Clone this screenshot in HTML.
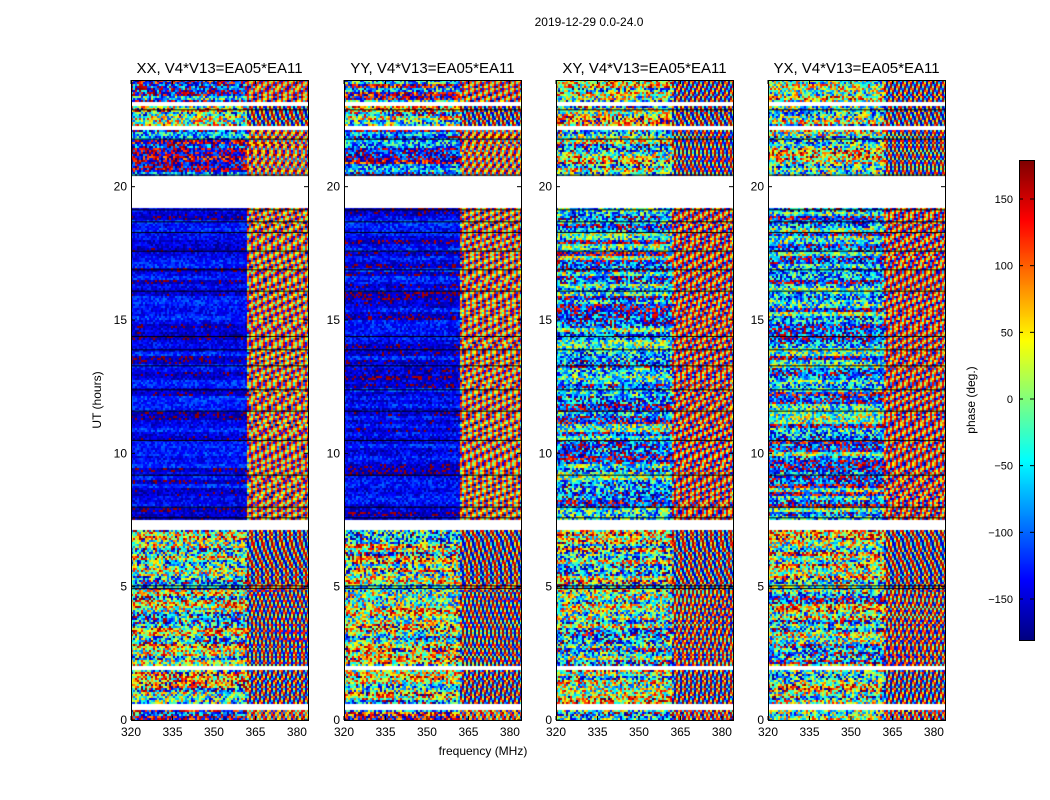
<!DOCTYPE html>
<html><head><meta charset="utf-8">
<style>
body{margin:0;background:#fff;width:1050px;height:800px;overflow:hidden;font-family:"Liberation Sans","DejaVu Sans",sans-serif;}
#root{position:relative;width:1050px;height:800px;}
canvas{position:absolute;}
</style></head>
<body>
<div id="root">
<svg id="ov" width="1050" height="800" style="position:absolute;left:0;top:0;z-index:2"></svg>
</div>
<script>
// ---- data ----
const panels = ["XX","YY","XY","YX"];
const freqTicks = [320,335,350,365,380];
const timeTicks = [0,5,10,15,20];
const cbarTicks = [150,100,50,0,-50,-100,-150];
const bandStart = [0,0.4,0.6,1.85,2.05,4.9,5.1,7.1,7.5,19.2,20.4,22.1,22.3,23.0,23.2];
const bandEnd   = [0.4,0.6,1.85,2.05,4.9,5.1,7.1,7.5,19.2,20.4,22.1,22.3,23.0,23.2,24];
const bandGap   = [0,1,0,1,0,0,0,1,0,1,0,1,0,1,0];
const meanXX   = [-150,0,0,0,0,-100,0,0,-140,0,-140,0,0,0,-120];
const spreadXX = [300,0,360,0,360,300,360,0,80,0,250,0,360,0,300];
const meanYY   = [-150,0,0,0,0,-100,0,0,-145,0,-140,0,0,0,-120];
const spreadYY = [300,0,360,0,360,300,360,0,90,0,250,0,360,0,300];
const meanXY   = [-60,0,0,0,-30,0,0,0,-90,0,0,0,0,0,0];
const spreadXY = [360,0,360,0,360,360,360,0,300,0,360,0,360,0,360];
const meanYX   = [-60,0,0,0,-30,0,0,0,-90,0,0,0,0,0,0];
const spreadYX = [360,0,360,0,360,360,360,0,300,0,360,0,360,0,360];
const blackLines = [4.95,5.05,7.6,8.0,9.2,10.5,11.6,12.4,13.3,13.9,14.4,16.1,16.9,17.6,18.3,18.7,19.15,20.45,21.8,22.9];
const means = [meanXX,meanYY,meanXY,meanYX];
const spreads = [spreadXX,spreadYY,spreadXY,spreadYX];

// ---- layout ----
const panelX = [131,344,556,768], PW=177, PT=80, PB=720;
const F0=320, F1=384;
const xs = (i,f)=>panelX[i]+(f-F0)/(F1-F0)*PW;
const ys = t=>PB-(t/24)*(PB-PT);
const cbY = v=>639-(v+180)/360*480;

function jet(v){
  const r=Math.min(1,Math.max(0,1.5-Math.abs(4*v-3)));
  const g=Math.min(1,Math.max(0,1.5-Math.abs(4*v-2)));
  const b=Math.min(1,Math.max(0,1.5-Math.abs(4*v-1)));
  return [r*255|0,g*255|0,b*255|0];
}
function hash(a,b,c){let h=(a*374761393+b*668265263+c*2147483647)|0;h=(h^(h>>>13))*1274126177|0;return ((h^(h>>>16))>>>0)/4294967296;}

const root=document.getElementById('root');
const NS="http://www.w3.org/2000/svg";
const ov=document.getElementById('ov');
function txt(x,y,s,size,anchor,rot){const e=document.createElementNS(NS,'text');e.setAttribute('x',x);e.setAttribute('y',y);e.setAttribute('font-size',size);e.setAttribute('text-anchor',anchor||'middle');e.setAttribute('font-family','"Liberation Sans","DejaVu Sans",sans-serif');if(rot)e.setAttribute('transform',`rotate(${rot} ${x} ${y})`);e.textContent=s;ov.appendChild(e);return e;}
function line(x1,y1,x2,y2,c,w){const e=document.createElementNS(NS,'line');e.setAttribute('x1',x1);e.setAttribute('y1',y1);e.setAttribute('x2',x2);e.setAttribute('y2',y2);e.setAttribute('stroke',c||'#000');e.setAttribute('stroke-width',w||1);ov.appendChild(e);return e;}

let e=txt(589,26,"2019-12-29 0.0-24.0",12);



panels.forEach((p,i)=>{
  const cv=document.createElement('canvas');
  cv.width=PW;cv.height=PB-PT;cv.style.left=panelX[i]+'px';cv.style.top=PT+'px';
  
  
  root.appendChild(cv);
  const ctx=cv.getContext('2d');
  const img=ctx.createImageData(PW,PB-PT);
  const cw=2,ch=2;
  for(let row=0;row<(PB-PT)/ch;row++){
    const t=24-(row*ch+1)/(PB-PT)*24;
    let b=0;for(let k=0;k<bandStart.length;k++){if(t>=bandStart[k]&&t<bandEnd[k]){b=k;break;}}
    const rowShift=(hash(row>>1,b,i+7)-0.5)*spreads[i][b]*0.6;
    for(let col=0;col<PW/cw;col++){
      const f=F0+(col*cw+1)/PW*(F1-F0);
      let rgb;
      if(bandGap[b]){rgb=[255,255,255];}
      else{
        let ph;
        if(f>362){
          ph=means[i][b]*0.5+180*Math.sin(f*(1.8+(b%3)*0.4)+t*7+hash(row>>2,b,i)*6);
        }else{
          ph=means[i][b]+rowShift+(hash(row,col,i)-0.5)*spreads[i][b]*0.7;
        }
        ph=((ph+180)%360+360)%360-180;
        rgb=jet((ph+180)/360);
      }
      for(let dy=0;dy<ch;dy++)for(let dx=0;dx<cw;dx++){
        const x=col*cw+dx,y=row*ch+dy;if(x>=PW||y>=PB-PT)continue;
        const o=(y*PW+x)*4;img.data[o]=rgb[0];img.data[o+1]=rgb[1];img.data[o+2]=rgb[2];img.data[o+3]=255;
      }
    }
  }
  ctx.putImageData(img,0,0);
  ctx.fillStyle='#000';
  blackLines.forEach(t=>{ctx.fillRect(0,ys(t)-PT,PW,1);});

  const r=document.createElementNS(NS,'rect');
  r.setAttribute('x',panelX[i]+0.5);r.setAttribute('y',PT+0.5);r.setAttribute('width',PW);r.setAttribute('height',PB-PT);
  r.setAttribute('fill','none');r.setAttribute('stroke','#000');
  
  
  ov.appendChild(r);
  let tt=txt(panelX[i]+PW/2,73,p+", V4*V13=EA05*EA11",15);
  
  
  freqTicks.forEach(f=>{const x=xs(i,f);line(x,PB,x,PB-4);line(x,PT,x,PT+4);
    const l=txt(x,736,String(f),12);
    
    });
  timeTicks.forEach(t=>{const y=ys(t);line(panelX[i],y,panelX[i]+4,y);line(panelX[i]+PW,y,panelX[i]+PW-4,y);
    const l=txt(panelX[i]-4,y+4,String(t),12,'end');
    
    });
});
e=txt(483,755,"frequency (MHz)",12);


e=txt(101,400,"UT (hours)",12,'middle',-90);



// colorbar
const cb=document.createElement('canvas');cb.width=15;cb.height=480;cb.style.left='1019px';cb.style.top='160px';


root.appendChild(cb);
const cc=cb.getContext('2d');
for(let y=0;y<480;y++){const c=jet(1-y/480);cc.fillStyle=`rgb(${c})`;cc.fillRect(0,y,15,1);}
const cr=document.createElementNS(NS,'rect');cr.setAttribute('x',1019.5);cr.setAttribute('y',160.5);cr.setAttribute('width',15);cr.setAttribute('height',480);cr.setAttribute('fill','none');cr.setAttribute('stroke','#000');


ov.appendChild(cr);
cbarTicks.forEach(v=>{const y=cbY(v);line(1019,y,1023,y);line(1034,y,1030,y);
  const l=txt(1013,y+4,String(v).replace('-','\u2212'),11,'end');
  
  });
e=txt(975,400,"phase (deg.)",12,'middle',-90);


</script>
</body></html>
